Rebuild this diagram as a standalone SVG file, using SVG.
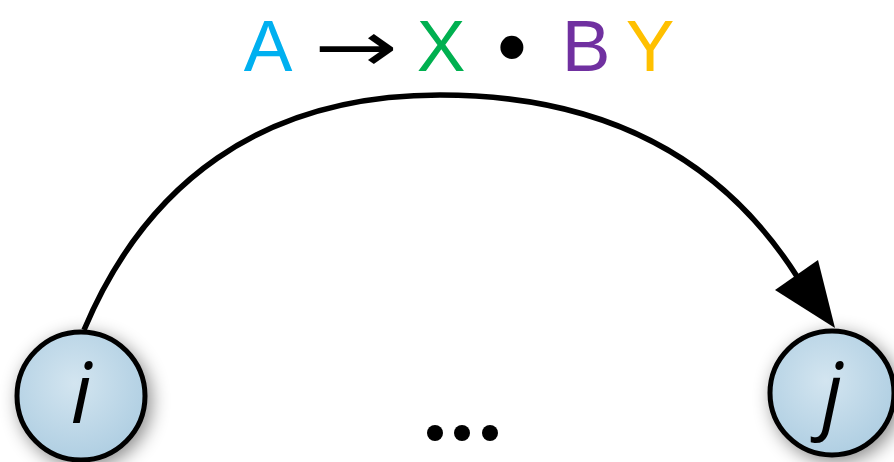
<svg xmlns="http://www.w3.org/2000/svg" width="894" height="462" viewBox="0 0 894 462">
<defs>
<style>
.t{font-family:"Liberation Sans",Arial,sans-serif;font-size:73px;text-anchor:middle}
.lbl{font-family:"Open Sans","Noto Sans",sans-serif;font-size:84px;font-style:italic;text-anchor:middle;fill:#000}
.node{fill:url(#g);stroke:#000;stroke-width:5;filter:url(#sh)}
.edge{fill:none;stroke:#000;stroke-width:5.5}
</style>
<radialGradient id="g" cx="0.45" cy="0.4" r="0.7">
<stop offset="0" stop-color="#D3E5F0"/>
<stop offset="1" stop-color="#AACBE0"/>
</radialGradient>
<filter id="sh" x="-40%" y="-40%" width="180%" height="180%">
<feDropShadow dx="4" dy="5" stdDeviation="9" flood-color="#000" flood-opacity="0.45"/>
</filter>
</defs>
<rect width="894" height="462" fill="#fff"/>
<g id="title">
<text class="t" x="268" y="71" fill="#00B0F0">A</text>
<text x="314" y="71" font-family="DejaVu Sans,sans-serif" font-size="70" textLength="84" lengthAdjust="spacingAndGlyphs" fill="#000">→</text>
<text class="t" x="441" y="71" fill="#00B050">X</text>
<text x="512" y="76" font-family="Liberation Sans,sans-serif" font-size="85" text-anchor="middle" fill="#000">•</text>
<text class="t" x="586" y="71" fill="#7030A0">B</text>
<text class="t" x="650" y="71" fill="#FFC000">Y</text>
</g>
<g id="connectors">
<path class="edge" d="M 84 330 C 145 185, 260 95, 440 95 C 620 95, 730 170, 798 278"/>
<polygon points="835,328 775,290 818,260" fill="#000"/>
</g>
<g id="node-i">
<circle class="node" cx="81" cy="396" r="64"/>
<text class="lbl" x="81" y="423">i</text>
</g>
<g id="node-j">
<circle class="node" cx="832" cy="393" r="62"/>
<text class="lbl" x="832" y="423">j</text>
</g>
<g id="ellipsis" fill="#000">
<circle cx="435" cy="433" r="8"/>
<circle cx="462" cy="433" r="8"/>
<circle cx="490" cy="433" r="8"/>
</g>
</svg>
